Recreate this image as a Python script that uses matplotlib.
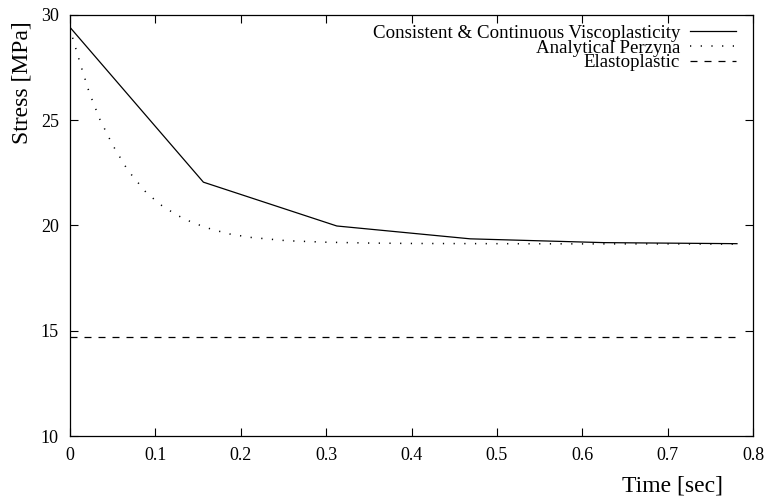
import matplotlib
matplotlib.use("Agg")
import matplotlib.pyplot as plt

# Data
t_ccv = [0.0, 0.15625, 0.3125, 0.46875, 0.625, 0.78125]
s_ccv = [29.4, 22.05, 19.97, 19.36, 19.18, 19.13]

t_perz = [0.0, 0.0027, 0.0125, 0.0226, 0.035, 0.050, 0.0676, 0.089, 0.106, 0.125,
          0.144, 0.166, 0.187, 0.211, 0.254, 0.30, 0.35, 0.40, 0.50, 0.60, 0.70, 0.78125]
s_perz = [29.4, 28.96, 27.61, 26.30, 25.03, 23.81, 22.62, 21.57, 20.98, 20.49,
          20.12, 19.81, 19.59, 19.43, 19.27, 19.20, 19.16, 19.14, 19.13, 19.12, 19.12, 19.11]

t_elas = [0.0, 0.78125]
s_elas = [14.7, 14.7]

labels = ["Consistent & Continuous Viscoplasticity", "Analytical Perzyna", "Elastoplastic"]
xticks = [0, 0.1, 0.2, 0.3, 0.4, 0.5, 0.6, 0.7, 0.8]
xticklabels = ["0", "0.1", "0.2", "0.3", "0.4", "0.5", "0.6", "0.7", "0.8"]
yticks = [10, 15, 20, 25, 30]
yticklabels = ["10", "15", "20", "25", "30"]

plt.rcParams['font.family'] = ['Liberation Serif', 'DejaVu Serif']

fig = plt.figure(figsize=(7.7, 4.98), dpi=100)
ax = fig.add_axes([70/770, 1-436/498, (753-70)/770, (436-14.7)/498])

ax.plot(t_ccv, s_ccv, color='black', lw=0.9, label=labels[0])
ax.plot(t_perz, s_perz, color='black', lw=1.1, linestyle=(0, (0.8, 6.2)), label=labels[1])
ax.plot(t_elas, s_elas, color='black', lw=0.9, linestyle=(0, (5.6, 5.6)), label=labels[2])

ax.set_xlim(0, 0.8)
ax.set_ylim(10, 30)
ax.set_xticks(xticks)
ax.set_xticklabels(xticklabels)
ax.set_yticks(yticks)
ax.set_yticklabels(yticklabels)
ax.tick_params(direction='in', length=5.8, width=0.8, top=True, right=True,
               labelsize=13, pad=8, colors='black')
for sp in ax.spines.values():
    sp.set_linewidth(0.9)

leg = ax.legend(loc='upper right', bbox_to_anchor=(0.975, 0.976), frameon=False,
                markerfirst=False, fontsize=13.6, handlelength=2.45,
                handletextpad=0.5, labelspacing=-0.14, borderaxespad=0.0,
                borderpad=0.0)

fig.text(672/770, 1-486/498, "Time [sec]", ha='center', va='center', fontsize=17)
fig.text(22/770, 1-83/498, "Stress [MPa]", ha='center', va='center', fontsize=17,
         rotation=90)

fig.savefig("out.png", dpi=100)
